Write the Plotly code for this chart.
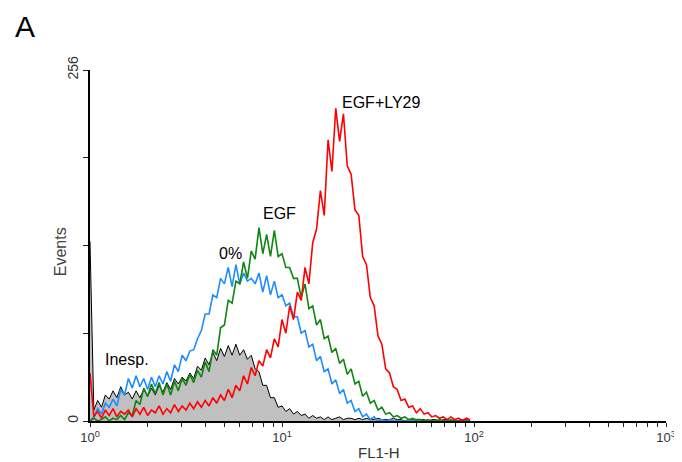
import numpy as np
import plotly.graph_objects as go

# log10 position of each histogram channel (0.02-decade channels)
log_pos = np.arange(0, 100) * 0.02
fl1 = 10 ** log_pos

inesp = [131, 8, 15, 10, 19, 16, 22, 17, 25, 19,
         21, 16, 22, 17, 23, 18, 24, 19, 26, 21,
         28, 23, 31, 27, 32, 29, 35, 31, 40, 37,
         46, 41, 50, 44, 53, 47, 55, 48, 56, 48,
         52, 45, 48, 38, 36, 26, 26, 17, 17, 10,
         11, 7, 9, 5, 7, 4, 5, 2, 4, 2,
         3, 1, 3, 1, 2, 3, 1, 2, 2, 1,
         2, 1, 2, 1, 1, 2, 1, 1, 1, 2,
         1, 1, 0, 1, 1, 0, 1, 1, 0, 1,
         1, 0, 1, 1, 0, 1, 0, 1, 1, 0]

zero_pct = [0, 3, 9, 5, 13, 10, 16, 11, 23, 19,
            31, 24, 33, 25, 31, 23, 32, 25, 33, 27,
            36, 29, 41, 36, 48, 44, 51, 52, 60, 66,
            78, 78, 92, 90, 104, 100, 112, 98, 114, 100,
            108, 102, 104, 100, 108, 94, 106, 92, 102, 90,
            92, 84, 86, 76, 76, 64, 66, 54, 56, 44,
            47, 36, 38, 27, 30, 20, 23, 13, 15, 7,
            9, 3, 5, 1, 3, 0, 1, 0, 1, 0,
            0, 0, 0, 0, 0, 0, 0, 0, 0, 0,
            0, 0, 0, 0, 0, 0, 0, 0, 0, 0]

egf = [0, 2, 0, 1, 3, 0, 2, 1, 4, 1,
       6, 4, 15, 12, 24, 18, 27, 20, 28, 19,
       27, 19, 29, 22, 31, 26, 34, 28, 37, 32,
       43, 36, 52, 48, 68, 70, 88, 86, 102, 100,
       116, 104, 124, 118, 141, 122, 136, 120, 139, 120,
       122, 112, 112, 104, 104, 90, 100, 82, 84, 70,
       74, 60, 62, 50, 53, 42, 45, 34, 38, 27,
       29, 18, 21, 13, 15, 8, 10, 5, 6, 3,
       4, 2, 3, 1, 2, 1, 1, 0, 1, 0,
       0, 1, 0, 0, 1, 0, 0, 0, 0, 0]

egf_ly29 = [35, 3, 7, 2, 8, 4, 9, 3, 7, 5,
            8, 3, 9, 5, 10, 4, 8, 6, 11, 5,
            9, 6, 12, 7, 11, 8, 13, 9, 14, 10,
            15, 11, 17, 13, 19, 15, 23, 17, 26, 22,
            33, 27, 39, 33, 44, 40, 52, 46, 60, 54,
            74, 64, 84, 74, 94, 88, 112, 100, 130, 140,
            168, 150, 205, 182, 228, 204, 224, 186, 180, 154,
            150, 120, 114, 90, 84, 62, 56, 38, 35, 25,
            23, 15, 16, 10, 11, 6, 9, 5, 6, 3,
            4, 2, 3, 1, 3, 1, 2, 0, 2, 1]

x_tick_vals = [1, 10, 100, 1000]
x_tick_text = ["10<sup>0</sup>", "10<sup>1</sup>", "10<sup>2</sup>", "10<sup>3</sup>"]
x_minor_vals = [m * d for d in (1, 10, 100) for m in range(2, 10)]
y_tick_vals = [0, 64, 128, 192, 256]
y_tick_text = ["0", "", "", "", "256"]

labels = ["Inesp.", "0%", "EGF", "EGF+LY29"]
label_x = [1.56, 5.36, 9.65, 32.8]
label_y = [45, 122, 151, 232]

all_tick_vals = sorted(x_tick_vals + x_minor_vals)
all_tick_text = [x_tick_text[x_tick_vals.index(v)] if v in x_tick_vals else "" for v in all_tick_vals]

FONT = "Liberation Sans, Arial"

fig = go.Figure()
fig.add_trace(go.Scatter(x=fl1, y=inesp, mode="lines", line=dict(color="black", width=1),
                         fill="tozeroy", fillcolor="#c0c0c0", name="Inesp."))
fig.add_trace(go.Scatter(x=fl1, y=zero_pct, mode="lines", line=dict(color="#1e8cff", width=1.6),
                         name="0%"))
fig.add_trace(go.Scatter(x=fl1, y=egf, mode="lines", line=dict(color="#0f860f", width=1.6),
                         name="EGF"))
fig.add_trace(go.Scatter(x=fl1, y=egf_ly29, mode="lines", line=dict(color="#ff0000", width=1.6),
                         name="EGF+LY29"))

for t, xv, yv in zip(labels, label_x, label_y):
    fig.add_annotation(x=np.log10(xv), y=yv, text=t, showarrow=False,
                       xanchor="center", yanchor="middle",
                       font=dict(family=FONT, size=16, color="black"))

fig.add_annotation(xref="paper", yref="paper", x=-0.113, y=1.125, text="A", showarrow=False,
                   xanchor="center", yanchor="middle",
                   font=dict(family=FONT, size=30, color="black"))
fig.add_annotation(xref="paper", yref="paper", x=-0.052, y=0.481, text="Events", showarrow=False,
                   xanchor="center", yanchor="middle",
                   textangle=-90, font=dict(family=FONT, size=16, color="#444"))
fig.add_annotation(xref="paper", yref="paper", x=0.502, y=-0.091, text="FL1-H", showarrow=False,
                   xanchor="center", yanchor="middle",
                   font=dict(family=FONT, size=15, color="#333"))

fig.update_layout(
    width=674, height=454,
    margin=dict(l=82, r=16, t=62, b=41, autoexpand=False),
    paper_bgcolor="white", plot_bgcolor="white",
    showlegend=False,
    font=dict(family=FONT, color="#333"),
    xaxis=dict(type="log", range=[0, 3], tickvals=all_tick_vals, ticktext=all_tick_text,
               ticks="outside", ticklen=4, tickwidth=1.2, tickcolor="#222",
               showline=True, linecolor="black", linewidth=1.5, showgrid=False, zeroline=False,
               layer="below traces", automargin=False,
               tickfont=dict(size=13, color="#333")),
    yaxis=dict(range=[0, 256], tickvals=y_tick_vals, ticktext=y_tick_text, tickangle=-90,
               ticks="outside", ticklen=5, tickcolor="#222",
               showline=True, linecolor="black", linewidth=1.5, showgrid=False, zeroline=False,
               layer="below traces", automargin=False,
               tickfont=dict(size=14, color="#333")),
)

fig.write_html("out.html")
